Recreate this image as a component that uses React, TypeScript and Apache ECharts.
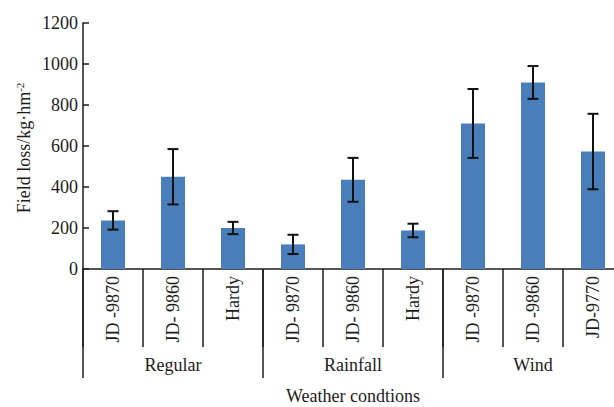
import React, { useEffect, useRef } from "react";
import * as echarts from "echarts";

// Varieties along the x axis, grouped by weather condition
const varieties = [
  "JD -9870", "JD- 9860", "Hardy",
  "JD- 9870", "JD- 9860", "Hardy",
  "JD -9870", "JD -9860", "JD-9770",
];
const conditions = ["Regular", "Rainfall", "Wind"];

// Mean field loss (kg·hm⁻²) and its standard error
const meanLoss = [237, 450, 200, 120, 435, 188, 710, 910, 573];
const errLoss = [45, 135, 30, 47, 107, 33, 168, 80, 184];

const yTicks = { min: 0, max: 1200, interval: 200 };

const FONT = "'Liberation Serif', 'Times New Roman', serif";
const INK = "#1c1c1c";

export default function App() {
  const ref = useRef<HTMLDivElement>(null);

  useEffect(() => {
    if (!ref.current) return;
    const chart = echarts.init(ref.current, undefined, { renderer: "svg" });

    const errData = meanLoss.map((m, i) => [i, m - errLoss[i], m + errLoss[i]]);

    chart.setOption({
      animation: false,
      grid: {
        left: 83,
        right: -9,
        top: 23,
        bottom: 138,
        containLabel: false,
        outerBoundsMode: "none",
      },
      xAxis: [
        {
          type: "category",
          data: varieties,
          position: "bottom",
          axisLine: { show: true, lineStyle: { color: INK, width: 1.5 } },
          axisTick: {
            show: true,
            interval: 0,
            alignWithLabel: false,
            length: 78,
            lineStyle: { color: INK, width: 1.5 },
          },
          axisLabel: {
            interval: 0,
            rotate: 90,
            margin: 7,
            fontFamily: FONT,
            fontSize: 18,
            color: INK,
          },
          name: "Weather condtions",
          nameLocation: "middle",
          nameGap: 118,
          nameTextStyle: { fontFamily: FONT, fontSize: 18, color: INK },
        },
        {
          type: "category",
          data: conditions,
          position: "bottom",
          axisLine: { show: false },
          axisTick: {
            show: true,
            interval: 0,
            alignWithLabel: false,
            length: 109,
            lineStyle: { color: INK, width: 1.5 },
          },
          axisLabel: {
            interval: 0,
            margin: 87,
            fontFamily: FONT,
            fontSize: 18,
            color: INK,
          },
        },
      ],
      yAxis: {
        type: "value",
        min: yTicks.min,
        max: yTicks.max,
        interval: yTicks.interval,
        axisLine: { show: true, lineStyle: { color: INK, width: 1.5 } },
        axisTick: { show: true, inside: true, length: 6, lineStyle: { color: INK, width: 1.5 } },
        axisLabel: {
          margin: 5,
          fontFamily: FONT,
          fontSize: 18,
          color: INK,
          formatter: (v: number) => String(v),
        },
        splitLine: { show: false },
      },
      graphic: [
        {
          type: "text",
          x: 24,
          y: 148,
          rotation: Math.PI / 2,
          style: {
            text: "{a|Field loss/kg·hm}{s|-2}",
            align: "center",
            verticalAlign: "middle",
            fill: INK,
            rich: {
              a: { fontFamily: FONT, fontSize: 18, lineHeight: 20, fill: INK },
              s: { fontFamily: FONT, fontSize: 11, lineHeight: 20, verticalAlign: "top", fill: INK },
            },
          },
        },
      ],
      series: [
        {
          type: "bar",
          xAxisIndex: 0,
          data: meanLoss,
          barWidth: 24,
          itemStyle: { color: "#4a7ebb" },
        },
        {
          type: "custom",
          xAxisIndex: 0,
          data: errData,
          z: 10,
          renderItem: (_params: any, api: any) => {
            const x = api.value(0);
            const lo = api.coord([x, api.value(1)]);
            const hi = api.coord([x, api.value(2)]);
            const cap = 5.5;
            const style = { stroke: "#111", lineWidth: 2 };
            return {
              type: "group",
              children: [
                { type: "line", shape: { x1: lo[0], y1: lo[1], x2: hi[0], y2: hi[1] }, style },
                { type: "line", shape: { x1: hi[0] - cap, y1: hi[1], x2: hi[0] + cap, y2: hi[1] }, style },
                { type: "line", shape: { x1: lo[0] - cap, y1: lo[1], x2: lo[0] + cap, y2: lo[1] }, style },
              ],
            };
          },
        },
      ],
    });

    return () => chart.dispose();
  }, []);

  return (
    <div
      ref={ref}
      style={{ position: "fixed", left: 0, top: 0, width: 614, height: 407, background: "#fff" }}
    />
  );
}
